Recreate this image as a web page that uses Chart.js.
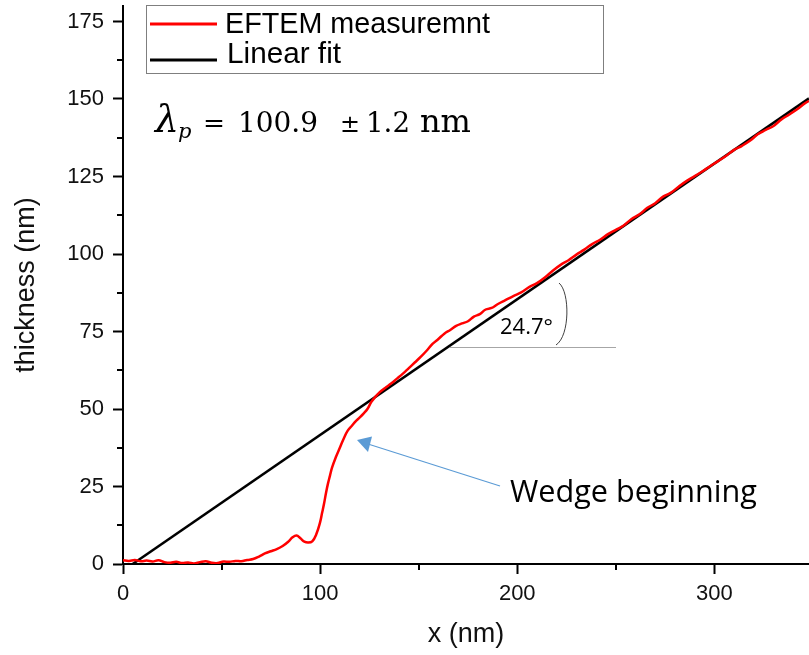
<!DOCTYPE html>
<html>
<head>
<meta charset="utf-8">
<script src="https://cdn.jsdelivr.net/npm/chart.js@4/dist/chart.umd.min.js"></script>
<style>
  html, body { margin: 0; padding: 0; background: #fff; }
  #wrap { width: 809px; height: 655px; position: relative; }
</style>
</head>
<body>
<div id="wrap"><canvas id="c" width="809" height="655"></canvas></div>
<script>
// ---- data ----
const X_NM = [0,3,6,9,12,15,18,21,24,27,30,33,36,39,42,45,48,51,54,57,60,63,66,69,72,75,78,81,84,86,88,90,92,94,96,98,100,101,102,103,104,105,106,108,110,112,114,116,118,120,122,124,126,128,130,133,136,139,142,145,148,151,154,157,160,163,166,169,172,175,178,181,184,187,190,194,198,202,206,210,214,218,222,226,230,234,238,242,246,250,254,258,262,266,270,274,278,282,286,290,294,298,302,306,310,314,318,322,326,330,334,338,342,346,348];
const THICKNESS = [1.2,1.0,1.3,0.9,1.1,0.8,1.2,0.6,0.4,0.7,0.3,0.5,0.2,0.6,0.9,0.4,0.3,0.8,0.7,1.0,0.9,1.3,1.6,2.4,3.4,4.1,4.8,5.8,7.3,8.6,9.2,8.3,7.2,6.9,7.3,9.5,13.5,16.5,19.5,23,26,28.5,31,34.5,37.5,40.5,43,44.5,46,47.2,48.5,50,52.3,53.9,55.3,56.8,58.2,59.8,61.4,63.2,65,66.8,68.8,71,72.6,74.3,75.5,76.8,77.6,78.3,79.8,80.6,82.1,82.6,83.8,85.1,86.4,87.6,89.3,90.6,92.4,94.6,96.5,98.0,99.8,101.4,103.2,104.6,106.4,107.8,109.2,111.3,112.8,114.9,116.4,118.5,119.8,121.8,123.6,125.1,126.7,128.4,130.0,131.7,133.6,134.9,136.5,138.6,140.0,141.3,143.4,145.0,146.7,148.6,149.4];
const FIT_X = [4.9, 348];
const FIT_Y = [0, 150.2];
const X_MAJOR_STEP = 100;
const Y_MAJOR_STEP = 25;
const X_MINOR = [50, 150, 250];
const Y_MINOR = [12.5, 37.5, 62.5, 87.5, 112.5, 137.5, 162.5];
const SERIES_NAMES = ['EFTEM measuremnt', 'Linear fit'];

const SANS = '"Liberation Sans", Arial, sans-serif';

const measured = X_NM.map((x, i) => ({x, y: THICKNESS[i]}));
const fit = FIT_X.map((x, i) => ({x, y: FIT_Y[i]}));

// draw text so that it spans a given width (font size adjusted)
function fitText(ctx, text, x, y, width, style, family, base) {
  ctx.font = style + ' ' + base + 'px ' + family;
  const w = ctx.measureText(text).width;
  const size = base * width / w;
  ctx.font = style + ' ' + size.toFixed(2) + 'px ' + family;
  ctx.fillText(text, x, y);
}

const decor = {
  id: 'decor',
  afterDraw(chart) {
    const ctx = chart.ctx;
    const xs = chart.scales.x, ys = chart.scales.y;
    ctx.save();
    // minor ticks
    ctx.strokeStyle = '#000';
    ctx.lineWidth = 2;
    ctx.beginPath();
    Y_MINOR.forEach(v => {
      const p = Math.round(ys.getPixelForValue(v));
      ctx.moveTo(xs.left - 6, p); ctx.lineTo(xs.left, p);
    });
    X_MINOR.forEach(v => {
      const p = Math.round(xs.getPixelForValue(v));
      ctx.moveTo(p, ys.bottom); ctx.lineTo(p, ys.bottom + 6);
    });
    ctx.stroke();

    // legend box
    ctx.lineWidth = 1;
    ctx.strokeStyle = '#7f7f7f';
    ctx.strokeRect(146.5, 5.5, 457, 68);
    ctx.lineWidth = 3;
    ctx.strokeStyle = '#ff0000';
    ctx.beginPath(); ctx.moveTo(150, 24); ctx.lineTo(217, 24); ctx.stroke();
    ctx.strokeStyle = '#000';
    ctx.beginPath(); ctx.moveTo(150, 60); ctx.lineTo(217, 60); ctx.stroke();
    ctx.fillStyle = '#000';
    ctx.textBaseline = 'alphabetic';
    ctx.textAlign = 'left';
    fitText(ctx, SERIES_NAMES[0], 225, 33, 265, 'normal', SANS, 28);
    fitText(ctx, SERIES_NAMES[1], 227, 63, 114, 'normal', SANS, 28);

    // lambda formula
    const SERIF = '"DejaVu Serif", serif';
    fitText(ctx, '\u03BB', 155, 132, 24, 'italic', SERIF, 30);
    ctx.font = 'italic 21px ' + SERIF;
    ctx.fillText('p', 178, 138);
    fitText(ctx, '=', 203, 132, 22, 'normal', SERIF, 29);
    fitText(ctx, '100.9', 238, 132, 80, 'normal', SERIF, 29);
    fitText(ctx, '\u00B1', 340, 132, 20, 'normal', SERIF, 29);
    fitText(ctx, '1.2', 366, 132, 44, 'normal', SERIF, 29);
    fitText(ctx, 'nm', 420, 132, 51, 'normal', SERIF, 29);

    // angle annotation
    ctx.strokeStyle = '#a6a6a6';
    ctx.lineWidth = 1;
    ctx.beginPath(); ctx.moveTo(450, 347.5); ctx.lineTo(616, 347.5); ctx.stroke();
    ctx.strokeStyle = '#404040';
    ctx.beginPath();
    ctx.moveTo(559, 283);
    ctx.bezierCurveTo(570, 292, 570, 336, 556, 345);
    ctx.stroke();
    ctx.fillStyle = '#000';
    fitText(ctx, '24.7\u00B0', 500, 333.5, 53, 'normal', '"Open Sans", sans-serif', 22);

    // arrow
    ctx.strokeStyle = '#5b9bd5';
    ctx.fillStyle = '#5b9bd5';
    ctx.lineWidth = 1.2;
    ctx.beginPath(); ctx.moveTo(500, 486); ctx.lineTo(368, 444); ctx.stroke();
    ctx.beginPath();
    ctx.moveTo(357, 440); ctx.lineTo(372, 436.5); ctx.lineTo(368, 452); ctx.closePath(); ctx.fill();

    ctx.fillStyle = '#000';
    fitText(ctx, 'Wedge beginning', 510, 502, 247, 'normal', '"Open Sans", sans-serif', 28);
    ctx.restore();
  }
};

new Chart(document.getElementById('c'), {
  type: 'line',
  data: {
    datasets: [
      { label: SERIES_NAMES[0], data: measured, borderColor: '#ff0000', borderWidth: 2.5,
        pointRadius: 0, tension: 0.4, fill: false },
      { label: SERIES_NAMES[1], data: fit, borderColor: '#000000', borderWidth: 2.5,
        pointRadius: 0, tension: 0, fill: false }
    ]
  },
  options: {
    responsive: false,
    devicePixelRatio: 1,
    animation: false,
    layout: { padding: { top: 6, right: 0, left: 0, bottom: 0 } },
    plugins: { legend: { display: false }, tooltip: { enabled: false } },
    scales: {
      x: {
        type: 'linear', min: 0, max: 348,
        grid: { drawOnChartArea: false, drawTicks: true, tickLength: 10, tickWidth: 2, tickColor: '#000' },
        border: { display: true, color: '#000', width: 2 },
        ticks: { stepSize: X_MAJOR_STEP, includeBounds: false, color: '#111', padding: 7,
                 font: { size: 22, family: SANS }, maxRotation: 0 },
        title: { display: true, text: 'x (nm)', color: '#111', font: { size: 27, family: SANS },
                 padding: { top: 0, bottom: 4 } },
        afterFit(s) { s.height = 91; s.paddingLeft = 0; s.paddingRight = 0; }
      },
      y: {
        type: 'linear', min: 0, max: 180,
        grid: { drawOnChartArea: false, drawTicks: true, tickLength: 10, tickWidth: 2, tickColor: '#000' },
        border: { display: true, color: '#000', width: 2 },
        ticks: { stepSize: Y_MAJOR_STEP, includeBounds: false, color: '#111', padding: 9,
                 font: { size: 22, family: SANS } },
        title: { display: true, text: 'thickness (nm)', color: '#111', font: { size: 27, family: SANS },
                 padding: { top: 10, bottom: 0 } },
        afterFit(s) { s.width = 123; s.paddingTop = 0; s.paddingBottom = 0; }
      }
    }
  },
  plugins: [decor]
});
</script>
</body>
</html>
